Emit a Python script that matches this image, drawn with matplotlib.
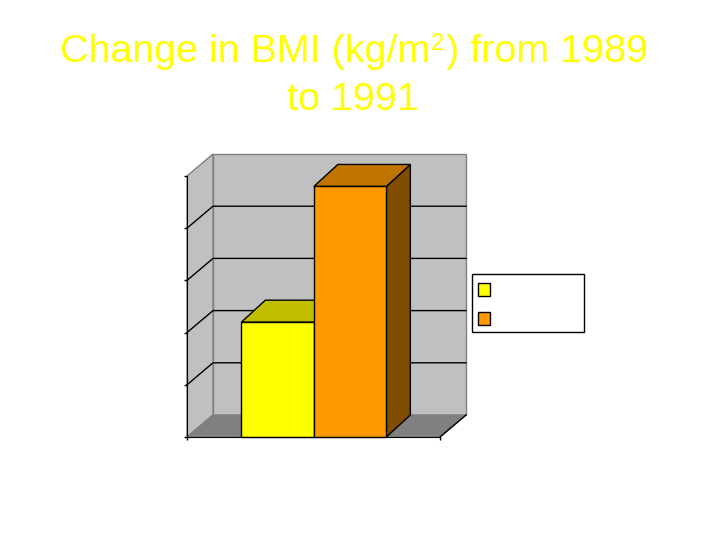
import matplotlib
matplotlib.use('Agg')
import matplotlib.pyplot as plt
from matplotlib.patches import Rectangle

plt.rcParams['font.family'] = ['Liberation Sans', 'DejaVu Sans']

title_start = 'Change in BMI (kg/m'
title_sup = '2'
title_end = ') from 1989'
title_second = 'to 1991'
values = [2.2, 4.8]
bar_x = [1.25, 2.25]
face_colors = ['#FFFF00', '#FF9900']
top_colors = ['#BFBF00', '#BF7300']
side_colors = ['#7F7F00', '#7F4C00']
y_ticks = [0, 1, 2, 3, 4, 5]

W, H = 720, 540
fig = plt.figure(figsize=(7.2, 5.4), dpi=100)
# front plane of the fake 3d box, pixels 187..440 across, 176..437 down
ax = fig.add_axes([187 / W, 1 - 437 / H, 253 / W, 261 / H])
xmax = 3.49
ax.set_xlim(0, xmax)
ax.set_ylim(0, 5)
ax.patch.set_visible(False)
for s in ['top', 'right']:
    ax.spines[s].set_visible(False)
ax.spines['left'].set_zorder(8)
ax.spines['bottom'].set_zorder(8)
ax.set_xticks([0, xmax])
ax.set_yticks(y_ticks)
ax.set_xticklabels([])
ax.set_yticklabels([])
ax.tick_params(length=2, width=1, color='black')

# depth offset in data units
dx = 26 / 253 * xmax
dy = 22 / 261 * 5
bdx = 24 / 253 * xmax

# walls and floor
ax.fill([dx, xmax + dx, xmax + dx, dx], [dy, dy, 5 + dy, 5 + dy], fc='#C0C0C0', ec='#808080', lw=1, clip_on=False, zorder=1)
ax.fill([0, dx, dx, 0], [0, dy, 5 + dy, 5], fc='#C0C0C0', ec='#808080', lw=1, clip_on=False, zorder=1)
ax.fill([0, dx, xmax + dx, xmax], [0, dy, dy, 0], fc='#808080', ec='#808080', lw=1, clip_on=False, zorder=1)
ax.plot([xmax, xmax + dx], [0, dy], color='black', lw=1, clip_on=False, zorder=2)

# gridlines round the back and left walls
for t in y_ticks[1:-1]:
    ax.plot([0, dx, xmax + dx], [t, t + dy, t + dy], color='black', lw=1, clip_on=False, zorder=2)

# bars, left one first so the right one covers its top
for i in range(len(values)):
    x0 = bar_x[i] - 0.5
    x1 = bar_x[i] + 0.5
    v = values[i]
    ax.fill([x1, x1 + bdx, x1 + bdx, x1], [0, dy, v + dy, v], fc=side_colors[i], ec='black', lw=1, clip_on=False, zorder=3 + i)
    ax.fill([x0, x0 + bdx, x1 + bdx, x1], [v, v + dy, v + dy, v], fc=top_colors[i], ec='black', lw=1, clip_on=False, zorder=3 + i)
    ax.bar(bar_x[i], v, width=1, color=face_colors[i], edgecolor='black', linewidth=1, clip_on=False, zorder=3 + i)

# legend box, its text is not visible in the picture
fig.add_artist(Rectangle((472 / W, 1 - 332 / H), 112 / W, 58 / H, transform=fig.transFigure, fc='white', ec='black', lw=1))
for y, c in zip([284 + 6, 313 + 6], face_colors):
    fig.add_artist(Rectangle((478 / W, 1 - (y + 6) / H), 12 / W, 13 / H, transform=fig.transFigure, fc=c, ec='black', lw=1))

# title in pieces, a mathtext superscript comes out too big
size = 28.4
base = 1 - 62 / H
r = fig.canvas.get_renderer()
t1 = fig.text(60 / W, base, title_start, color='#FFFF00', fontsize=size, va='baseline')
x = t1.get_window_extent(r).x1 + 1
t2 = fig.text(x / W, 1 - 50 / H, title_sup, color='#FFFF00', fontsize=17, va='baseline')
x = t2.get_window_extent(r).x1 + 2
fig.text(x / W, base, title_end, color='#FFFF00', fontsize=size, va='baseline')
fig.text(353 / W, 1 - 110 / H, title_second, color='#FFFF00', fontsize=size, ha='center', va='baseline')

fig.savefig('out.png', dpi=100, facecolor='white')
